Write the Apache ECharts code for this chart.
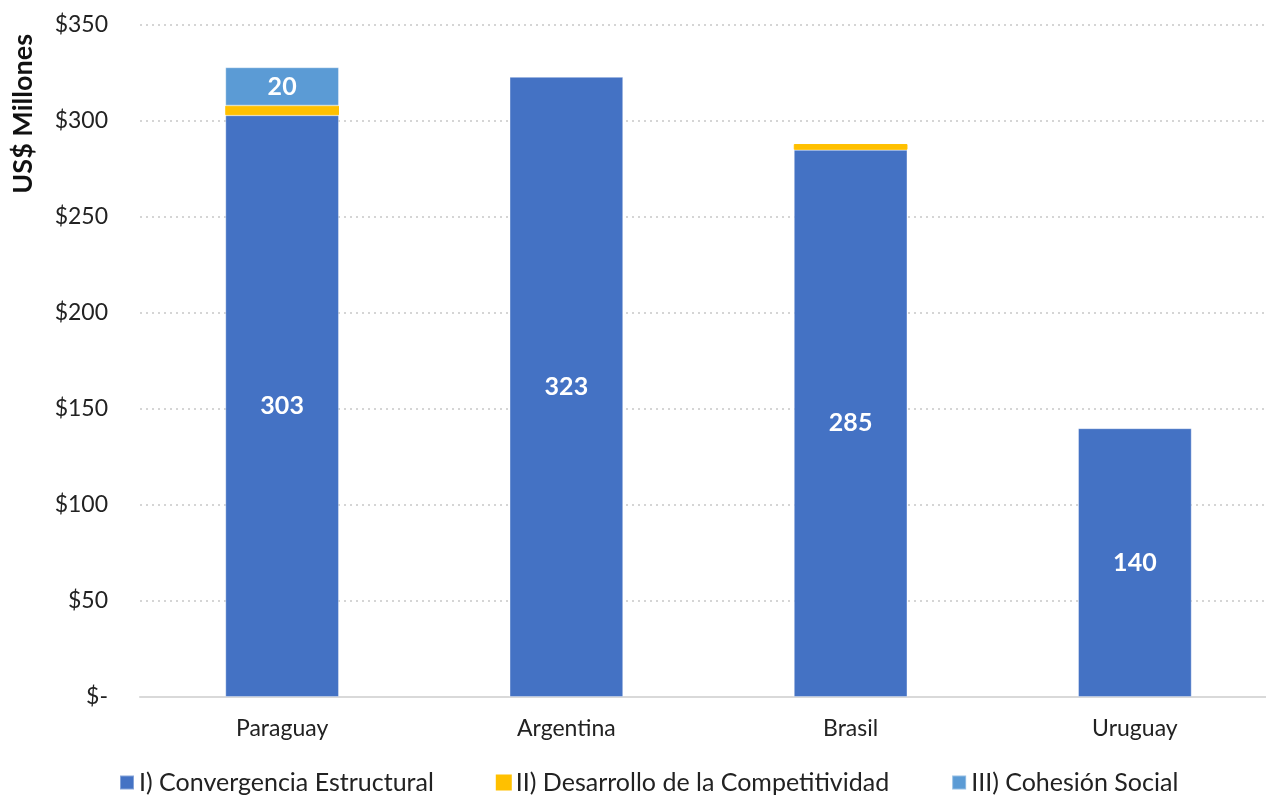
<!DOCTYPE html>
<html>
<head>
<meta charset="utf-8">
<script src="https://cdn.jsdelivr.net/npm/echarts@6/dist/echarts.min.js"></script>
<style>html,body{margin:0;padding:0;background:#fff;}#c{width:1266px;height:798px;}</style>
</head>
<body>
<div id="c"></div>
<script>
const categories = ['Paraguay', 'Argentina', 'Brasil', 'Uruguay'];
const seriesNames = ['I) Convergencia Estructural', 'II) Desarrollo de la Competitividad', 'III) Cohesión Social'];
const convergencia = [303, 323, 285, 140];
const competitividad = [5, null, 3, null];
const cohesion = [20, null, null, null];
const yTicks = [0, 50, 100, 150, 200, 250, 300, 350];
const axisTitle = 'US$ Millones';

const FONT = 'Lato, "Open Sans", sans-serif';
const chart = echarts.init(document.getElementById('c'));
const lbl = {
  show: true, position: 'inside', color: '#fff', fontWeight: 'bold',
  fontSize: 25, fontFamily: FONT,
  formatter: p => (p.value > 10 ? String(p.value) : '')
};
chart.setOption({
  animation: false,
  grid: { left: 140, top: 25, width: 1137, bottom: 101, containLabel: false, outerBoundsMode: 'none' },
  legend: {
    bottom: -2, left: 114, itemWidth: 14, itemHeight: 14, itemGap: 62,
    icon: 'rect',
    textStyle: { fontSize: 25, color: '#222', fontFamily: FONT },
    data: seriesNames
  },
  graphic: [{
    type: 'text', left: 10, top: 34, rotation: Math.PI / 2,
    style: { text: axisTitle, fill: '#111', font: 'bold 27px ' + FONT }
  }],
  xAxis: {
    type: 'category', data: categories,
    axisLine: { lineStyle: { color: '#d9d9d9', width: 2 } },
    axisTick: { show: false },
    axisLabel: { fontSize: 23, color: '#222', margin: 20, fontFamily: FONT }
  },
  yAxis: {
    type: 'value', min: 0, max: 350, interval: 50,
    axisLine: { show: false }, axisTick: { show: false },
    axisLabel: {
      fontSize: 23, color: '#222', margin: 32, fontFamily: FONT,
      formatter: v => (yTicks.includes(v) ? (v === 0 ? '$-' : '$' + v) : '')
    },
    splitLine: { lineStyle: { color: '#c8c8c8', type: [2, 4], width: 1.5 } }
  },
  series: [
    { name: seriesNames[0], type: 'bar', stack: 't', data: convergencia, barWidth: '40%',
      itemStyle: { color: '#4472C4', borderColor: 'rgba(255,255,255,0.35)', borderWidth: 1 }, label: lbl },
    { name: seriesNames[1], type: 'bar', stack: 't', data: competitividad,
      itemStyle: { color: '#FFC000', borderColor: '#FFC000', borderWidth: 1 }, label: { show: false } },
    { name: seriesNames[2], type: 'bar', stack: 't', data: cohesion,
      itemStyle: { color: '#5B9BD5', borderColor: 'rgba(255,255,255,0.35)', borderWidth: 1 }, label: lbl }
  ]
});
</script>
</body>
</html>
